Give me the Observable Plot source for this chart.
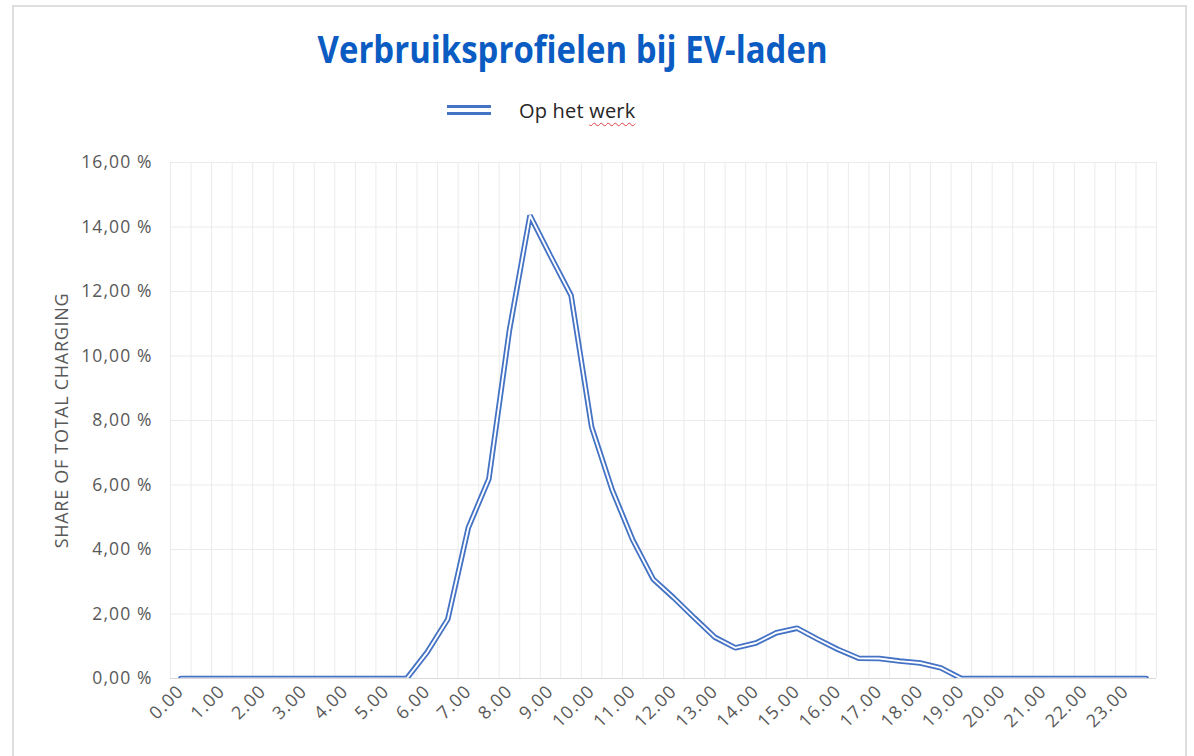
<!DOCTYPE html>
<html>
<head>
<meta charset="utf-8">
<script src="https://cdn.jsdelivr.net/npm/d3@7"></script>
<script src="https://cdn.jsdelivr.net/npm/@observablehq/plot@0.6"></script>
<style>
  body { margin: 0; background: #fff; font-family: "Open Sans", sans-serif; }
  #wrap { position: relative; width: 1194px; height: 756px; overflow: hidden; background: #fff; }
  #border { position: absolute; left: 12px; top: 5px; width: 1175px; height: 800px; border: 2px solid #dedede; box-sizing: border-box; z-index: 5; pointer-events: none; }
  #title { position: absolute; left: 0; top: 31px; width: 1146px; text-align: center; line-height: 36px; }
  #title span { display: inline-block; font-size: 37px; font-weight: 700; color: #0a5cc2; white-space: nowrap; transform-origin: center; }
  #legend { position: absolute; left: 447px; top: 96px; height: 28px; display: flex; align-items: center; }
  #legend .sym { width: 44px; height: 10px; box-sizing: border-box; border-top: 3px solid #4472c4; border-bottom: 3px solid #4472c4; background: #fff; margin-right: 28px; }
  #legend .lab { font-size: 20px; color: #262626; white-space: nowrap; letter-spacing: 0.2px; }
  #legend .lab .sp { text-decoration: underline wavy #e04040; text-decoration-thickness: 1px; text-underline-offset: 4px; }
  #chart { position: absolute; left: 0; top: 140px; }
  #chart svg { background: transparent !important; }
  #chart g[aria-label="y-axis tick label"] text { letter-spacing: 1.1px; }
  #chart g[aria-label="x-axis tick label"] text { letter-spacing: 1px; }
</style>
</head>
<body>
<div id="wrap">
  <div id="border"></div>
  <div id="title"><span id="titleText">Verbruiksprofielen bij EV-laden</span></div>
  <div id="legend"><div class="sym"></div><div class="lab">Op het <span class="sp">werk</span></div></div>
  <div id="chart"></div>
</div>
<script>
// Half-hour time slots (category axis)
const timeLabels = [
  "0.00","0.30","1.00","1.30","2.00","2.30","3.00","3.30","4.00","4.30","5.00","5.30",
  "6.00","6.30","7.00","7.30","8.00","8.30","9.00","9.30","10.00","10.30","11.00","11.30",
  "12.00","12.30","13.00","13.30","14.00","14.30","15.00","15.30","16.00","16.30","17.00","17.30",
  "18.00","18.30","19.00","19.30","20.00","20.30","21.00","21.30","22.00","22.30","23.00","23.30"
];
// Share of total charging (%) – "Op het werk"
const sharesWork = [
  0, 0, 0, 0, 0, 0, 0, 0, 0, 0, 0, 0,
  0.82, 1.84, 4.68, 6.19, 10.8, 14.36, 13.1, 11.88, 7.8, 5.85, 4.3, 3.08,
  2.5, 1.88, 1.28, 0.95, 1.1, 1.42, 1.56, 1.22, 0.9, 0.63, 0.62, 0.54,
  0.48, 0.33, 0, 0, 0, 0, 0, 0, 0, 0, 0, 0
];
const yTickValues = [0, 2, 4, 6, 8, 10, 12, 14, 16];
const yLabel = "SHARE OF TOTAL CHARGING";

const data = sharesWork.map((v, i) => ({ i, v, t: timeLabels[i] }));
const hourTicks = timeLabels.map((t, i) => i).filter(i => timeLabels[i].endsWith(".00"));
const bounds = d3.range(timeLabels.length + 1).map(i => i - 0.5);

const chart = Plot.plot({
  width: 1194,
  height: 616,
  marginTop: 22,
  marginBottom: 78,
  marginLeft: 170,
  marginRight: 38,
  x: { domain: [-0.5, timeLabels.length - 0.5] },
  y: { domain: [0, 16] },
  style: { fontFamily: "Open Sans", color: "#595959", background: "transparent", overflow: "visible" },
  marks: [
    Plot.ruleX(bounds, { stroke: "#ebebeb", strokeWidth: 1 }),
    Plot.ruleY(yTickValues.filter(d => d > 0), { stroke: "#ebebeb", strokeWidth: 1 }),
    Plot.ruleY([0], { stroke: "#d9d9d9", strokeWidth: 1.2 }),
    Plot.axisY({
      ticks: yTickValues, tickSize: 0, tickPadding: 18, fontSize: 17.5, label: null,
      tickFormat: d => d.toFixed(2).replace(".", ",") + " %"
    }),
    Plot.axisX({
      ticks: hourTicks, tickSize: 0, tickPadding: 10, tickRotate: -45, fontSize: 18, label: null,
      tickFormat: i => timeLabels[i]
    }),
    Plot.line(data, { x: "i", y: "v", stroke: "#4472c4", strokeWidth: 5.5, strokeLinejoin: "miter", clip: true }),
    Plot.line(data, { x: "i", y: "v", stroke: "#ffffff", strokeWidth: 1.9, strokeLinejoin: "miter", clip: true }),
    Plot.text([yLabel], {
      frameAnchor: "left", dx: -108, rotate: -90, textAnchor: "middle",
      fontSize: 18, fill: "#595959", text: d => d
    })
  ]
});
document.getElementById("chart").appendChild(chart);
chart.querySelectorAll('g[aria-label="text"] text').forEach(t => t.style.letterSpacing = "0.7px");

// fit title width to reference (~510px)
const tt = document.getElementById("titleText");
const w = tt.getBoundingClientRect().width;
tt.style.transform = `scaleX(${510 / w})`;
</script>
</body>
</html>
